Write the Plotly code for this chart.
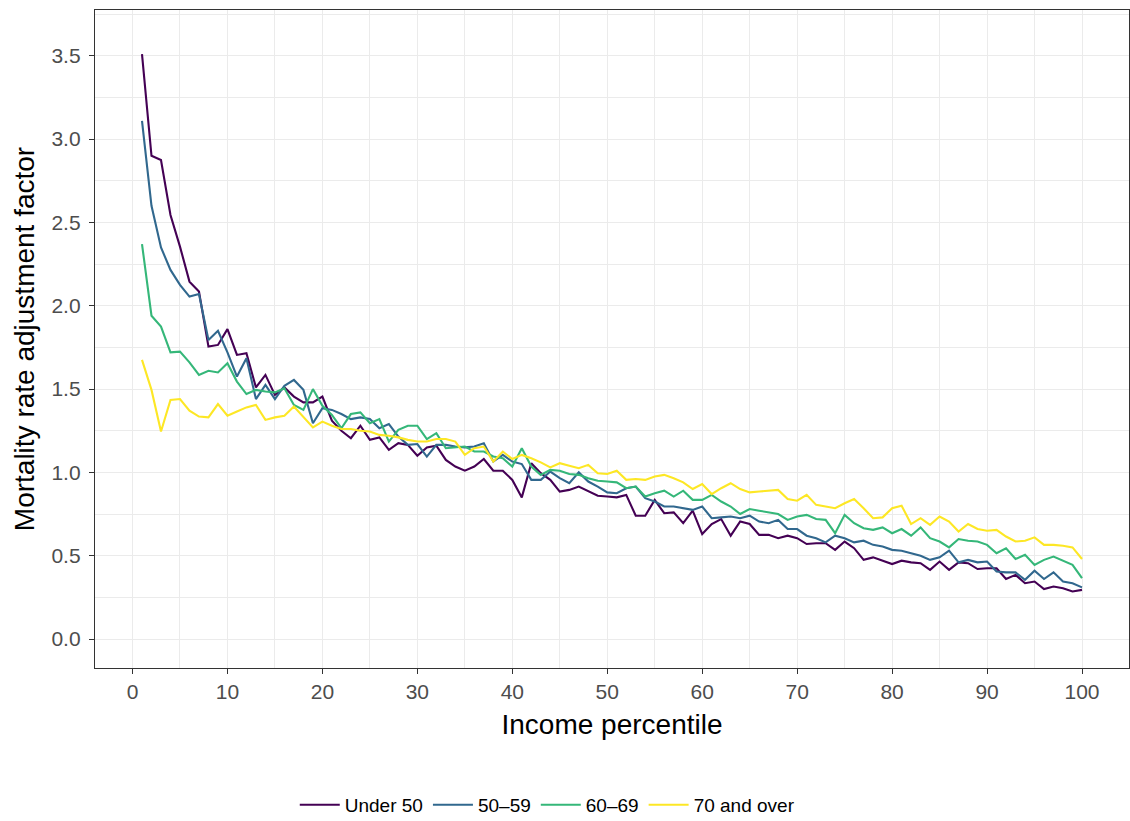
import plotly.graph_objects as go

percentile = list(range(1, 101))

under_50 = [3.51, 2.90, 2.875, 2.545, 2.355, 2.145, 2.085, 1.755, 1.765, 1.86,
            1.705, 1.715, 1.51, 1.585, 1.465, 1.51, 1.455, 1.42, 1.42, 1.455,
            1.31, 1.25, 1.205, 1.28, 1.195, 1.21, 1.135, 1.175, 1.165, 1.10,
            1.15, 1.16, 1.075, 1.035, 1.01, 1.035, 1.08, 1.01, 1.01, 0.955,
            0.85, 1.055, 0.995, 0.955, 0.885, 0.895, 0.915, 0.885, 0.86, 0.855,
            0.85, 0.865, 0.74, 0.74, 0.835, 0.755, 0.76, 0.695, 0.77, 0.63,
            0.69, 0.72, 0.62, 0.705, 0.69, 0.625, 0.625, 0.605, 0.62, 0.605,
            0.57, 0.575, 0.575, 0.535, 0.585, 0.545, 0.475, 0.49, 0.47, 0.45,
            0.47, 0.46, 0.455, 0.415, 0.465, 0.415, 0.46, 0.455, 0.42, 0.425,
            0.425, 0.36, 0.385, 0.335, 0.345, 0.30, 0.315, 0.305, 0.285, 0.295]

age_50_59 = [3.11, 2.60, 2.35, 2.215, 2.125, 2.055, 2.07, 1.795, 1.85, 1.72,
             1.575, 1.685, 1.44, 1.525, 1.44, 1.52, 1.555, 1.495, 1.295, 1.385,
             1.375, 1.35, 1.32, 1.33, 1.32, 1.265, 1.29, 1.215, 1.165, 1.17,
             1.095, 1.165, 1.165, 1.155, 1.15, 1.155, 1.175, 1.065, 1.105, 1.065,
             1.05, 0.955, 0.955, 1.005, 0.965, 0.935, 1.0, 0.945, 0.915, 0.88,
             0.875, 0.905, 0.915, 0.845, 0.825, 0.795, 0.795, 0.785, 0.775, 0.795,
             0.725, 0.73, 0.735, 0.725, 0.74, 0.705, 0.695, 0.715, 0.66, 0.66,
             0.62, 0.605, 0.58, 0.62, 0.605, 0.58, 0.59, 0.565, 0.555, 0.535,
             0.53, 0.515, 0.50, 0.475, 0.49, 0.53, 0.46, 0.475, 0.46, 0.465,
             0.405, 0.40, 0.40, 0.355, 0.41, 0.36, 0.40, 0.345, 0.335, 0.31]

age_60_69 = [2.37, 1.94, 1.875, 1.72, 1.725, 1.66, 1.585, 1.61, 1.60, 1.655,
             1.545, 1.47, 1.495, 1.485, 1.48, 1.505, 1.405, 1.375, 1.50, 1.40,
             1.345, 1.265, 1.35, 1.36, 1.295, 1.32, 1.185, 1.255, 1.28, 1.28,
             1.20, 1.235, 1.145, 1.15, 1.155, 1.125, 1.125, 1.095, 1.085, 1.035,
             1.145, 1.035, 0.985, 1.015, 1.01, 0.99, 0.985, 0.965, 0.95, 0.945,
             0.94, 0.905, 0.915, 0.855, 0.875, 0.89, 0.855, 0.89, 0.835, 0.835,
             0.865, 0.825, 0.795, 0.75, 0.78, 0.77, 0.76, 0.75, 0.715, 0.735,
             0.745, 0.72, 0.715, 0.635, 0.745, 0.695, 0.665, 0.655, 0.67, 0.635,
             0.66, 0.62, 0.67, 0.605, 0.585, 0.55, 0.60, 0.59, 0.585, 0.565,
             0.515, 0.545, 0.48, 0.505, 0.445, 0.475, 0.495, 0.47, 0.445, 0.365]

age_70_over = [1.675, 1.495, 1.245, 1.435, 1.44, 1.37, 1.335, 1.33, 1.41, 1.34,
               1.365, 1.39, 1.405, 1.315, 1.33, 1.34, 1.395, 1.335, 1.27, 1.305,
               1.28, 1.26, 1.26, 1.25, 1.245, 1.225, 1.22, 1.21, 1.195, 1.185,
               1.185, 1.20, 1.20, 1.185, 1.105, 1.145, 1.155, 1.065, 1.125, 1.08,
               1.105, 1.085, 1.06, 1.03, 1.055, 1.04, 1.025, 1.045, 0.995, 0.99,
               1.01, 0.955, 0.96, 0.955, 0.975, 0.985, 0.965, 0.94, 0.90, 0.93,
               0.87, 0.905, 0.935, 0.90, 0.88, 0.885, 0.89, 0.895, 0.84, 0.83,
               0.865, 0.805, 0.795, 0.785, 0.815, 0.84, 0.785, 0.725, 0.73, 0.785,
               0.80, 0.69, 0.725, 0.685, 0.735, 0.705, 0.645, 0.69, 0.66, 0.65,
               0.655, 0.615, 0.585, 0.59, 0.61, 0.565, 0.565, 0.56, 0.55, 0.48]

series_names = ["Under 50", "50\u201359", "60\u201369", "70 and over"]
series_values = [under_50, age_50_59, age_60_69, age_70_over]
series_colors = ["#440154", "#31688E", "#35B779", "#FDE725"]

x_ticks = list(range(0, 101, 10))
y_ticks = [0.0, 0.5, 1.0, 1.5, 2.0, 2.5, 3.0, 3.5]

FONT = "Liberation Sans, Arial, sans-serif"

fig = go.Figure()
for name, vals, col in zip(series_names, series_values, series_colors):
    fig.add_trace(go.Scatter(x=percentile, y=vals, mode="lines", name=name,
                             line=dict(color=col, width=2.1)))

axis_common = dict(
    showgrid=True, gridcolor="#EBEBEB", gridwidth=1.4,
    zeroline=False, showline=True, mirror=True, linecolor="#333333", linewidth=1.3,
    ticks="outside", ticklen=5, tickwidth=1.2, tickcolor="#333333",
    tickfont=dict(family=FONT, size=21, color="#4D4D4D"),
)

fig.update_layout(
    width=1130, height=821,
    plot_bgcolor="white", paper_bgcolor="white",
    margin=dict(l=95, r=1, t=10, b=153, autoexpand=False),
    font=dict(family=FONT),
    xaxis=dict(range=[-3.95, 104.95], tickvals=x_ticks, ticklabelstandoff=0,
               minor=dict(dtick=5, tick0=0, showgrid=True, gridcolor="#EBEBEB", gridwidth=0.8, ticks=""),
               title=dict(text="Income percentile", font=dict(family=FONT, size=28, color="black"), standoff=12),
               **axis_common),
    yaxis=dict(range=[-0.174, 3.775], tickvals=y_ticks, tickformat=".1f", ticklabelstandoff=4,
               minor=dict(dtick=0.25, tick0=0, showgrid=True, gridcolor="#EBEBEB", gridwidth=0.8, ticks=""),
               title=dict(text="Mortality rate adjustment factor", font=dict(family=FONT, size=28, color="black"), standoff=8),
               **axis_common),
    legend=dict(orientation="h", x=0.1932, xanchor="left", y=-0.208, yanchor="middle",
                itemwidth=40,
                font=dict(family=FONT, size=19, color="black"), bgcolor="rgba(0,0,0,0)"),
    showlegend=True,
)

fig.write_html("out.html",
               config={"displayModeBar": False},
               post_script="document.body.style.margin='0';document.body.style.overflow='hidden';")
